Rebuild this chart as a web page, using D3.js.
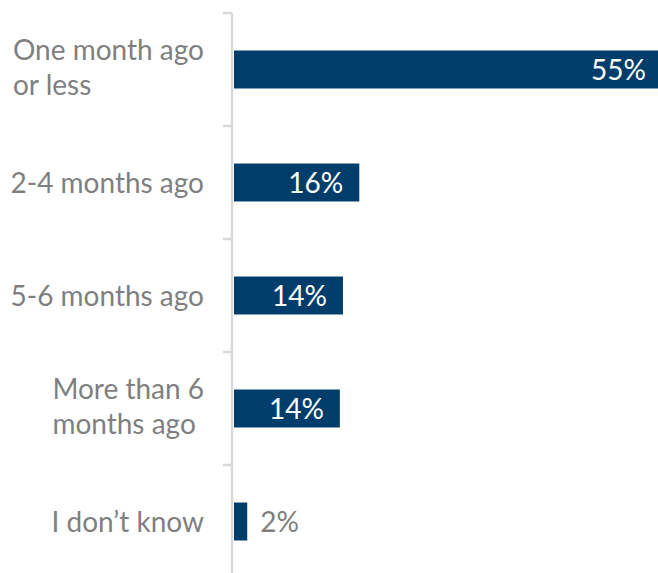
<!DOCTYPE html>
<html>
<head>
<meta charset="utf-8">
<script src="https://cdn.jsdelivr.net/npm/d3@7"></script>
<style>
  body { margin: 0; background: #fff; }
  svg { display: block; font-family: "Lato", "Source Sans Pro", sans-serif; }
</style>
</head>
<body>
<div id="chart"></div>
<script>
// data
const categories = ["One month ago|or less", "2-4 months ago", "5-6 months ago", "More than 6|months ago", "I don\u2019t know"];
const values = [55, 16.1, 14.0, 13.6, 1.7];
const valueLabels = ["55%", "16%", "14%", "14%", "2%"];

const width = 658, height = 573;
const margin = { top: 13, right: 0, bottom: 0, left: 233 };

const svg = d3.select("#chart").append("svg")
    .attr("width", width)
    .attr("height", height);

// band scale: 5 bands of ~113px, bottom edge below the window
const yScale = d3.scaleBand(d3.range(categories.length), [margin.top, margin.top + 565])
    .paddingInner(0.664)
    .paddingOuter(0.332);

const xScale = d3.scaleLinear([0, 55], [margin.left + 1, 662]);

// bars
svg.append("g")
    .selectAll("rect")
    .data(values)
    .join("rect")
    .attr("x", xScale(0))
    .attr("y", (_, i) => yScale(i))
    .attr("width", d => xScale(d) - xScale(0))
    .attr("height", yScale.bandwidth())
    .attr("fill", "#003d6b");

// value labels: inside the bar when it fits, otherwise after it
svg.append("g")
    .selectAll("text")
    .data(values)
    .join("text")
    .attr("x", d => d > 5 ? xScale(d) - 16 : xScale(d) + 13)
    .attr("y", (_, i) => yScale(i) + yScale.bandwidth() / 2)
    .attr("dy", "0.36em")
    .attr("text-anchor", d => d > 5 ? "end" : "start")
    .attr("fill", d => d > 5 ? "#ffffff" : "#7f7f7f")
    .attr("font-size", 28)
    .text((_, i) => valueLabels[i]);

// axis line with ticks between the bands
const axis = svg.append("g");
axis.append("line")
    .attr("x1", margin.left - 1).attr("x2", margin.left - 1)
    .attr("y1", margin.top).attr("y2", height + 10)
    .attr("stroke", "#d9d9d9")
    .attr("stroke-width", 2.5);

const step = yScale.step();
axis.selectAll(".tick")
    .data(d3.range(categories.length + 1))
    .join("line")
    .attr("class", "tick")
    .attr("x1", margin.left - 10).attr("x2", margin.left - 1)
    .attr("y1", i => margin.top + i * step)
    .attr("y2", i => margin.top + i * step)
    .attr("stroke", "#d9d9d9")
    .attr("stroke-width", 2.5);

// category labels, split on "|"; lines left-aligned inside a right-aligned block
const lineHeight = 35;
const labelRight = 204;
const labels = svg.append("g")
    .selectAll("text")
    .data(categories)
    .join("text")
    .attr("fill", "#7f7f7f")
    .attr("font-size", 28);

labels.each(function (d, i) {
    const lines = d.split("|");
    const cy = yScale(i) + yScale.bandwidth() / 2;
    const y0 = cy - (lines.length - 1) * lineHeight / 2;
    const text = d3.select(this);
    const spans = text.selectAll("tspan")
        .data(lines)
        .join("tspan")
        .attr("y", (_, k) => y0 + k * lineHeight)
        .attr("dy", lines.length > 1 ? "0.29em" : "0.36em")
        .text(l => l);
    const w = d3.max(spans.nodes(), n => n.getComputedTextLength());
    spans.attr("x", labelRight - w);
});
</script>
</body>
</html>
